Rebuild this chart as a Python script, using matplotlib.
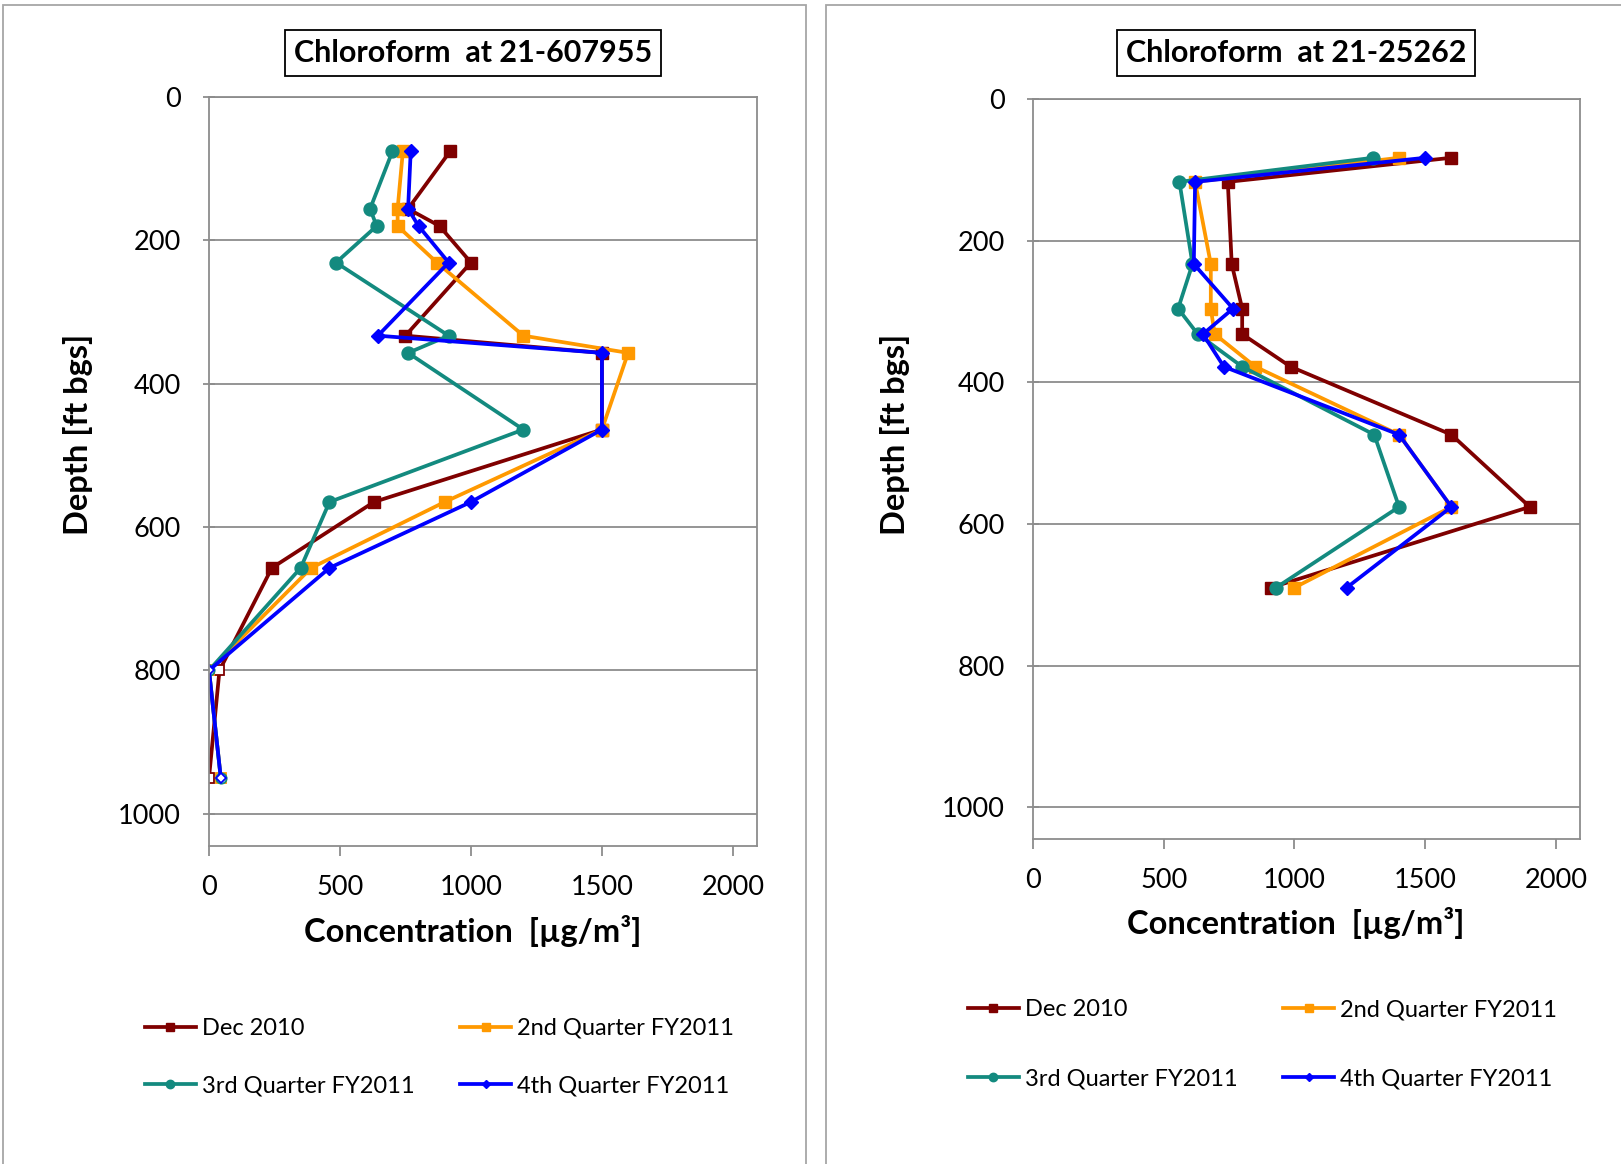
import matplotlib
matplotlib.use("Agg")
import matplotlib.pyplot as plt
from matplotlib.patches import Rectangle

plt.rcParams['font.family'] = ['Lato', 'DejaVu Sans']

# sampling depths [ft bgs]
depth_a = [76, 156, 180, 231, 333, 357, 464, 565, 657, 800, 950]
depth_b = [83, 117, 233, 296, 332, 378, 474, 576, 690]

# chloroform at 21-607955 [ug/m3]; last two ports are non-detects (hollow markers)
a_dec = [920, 760, 880, 1000, 750, 1500, 1500, 630, 240, 40, 0]
a_q2 = [740, 720, 720, 870, 1200, 1600, 1500, 900, 390, 0, 45]
a_q3 = [700, 615, 640, 485, 915, 760, 1200, 460, 350, 0, 45]
a_q4 = [770, 760, 800, 915, 645, 1500, 1500, 1000, 460, 0, 45]
a_nd = 2

# chloroform at 21-25262 [ug/m3]
b_dec = [1600, 745, 760, 800, 800, 985, 1600, 1900, 910]
b_q2 = [1400, 620, 680, 680, 695, 850, 1400, 1600, 1000]
b_q3 = [1300, 560, 610, 555, 630, 800, 1305, 1400, 930]
b_q4 = [1500, 620, 615, 765, 650, 730, 1400, 1600, 1200]

labels = ["Dec 2010", "2nd Quarter FY2011", "3rd Quarter FY2011", "4th Quarter FY2011"]
colors = ["#7F0000", "#FF9900", "#138A7F", "#0000FF"]
markers = ["s", "s", "o", "D"]
msizes = [9.3, 9.3, 9.3, 7]

W, H = 1621, 1164
fig = plt.figure(figsize=(W / 100, H / 100), dpi=100)

# chart area borders
fig.patches.append(Rectangle((3 / W, -0.01), 803 / W, 1 - 5 / H + 0.01, transform=fig.transFigure,
                             fill=False, ec="#a6a6a6", lw=1.3))
fig.patches.append(Rectangle((826 / W, -0.01), 0.5, 1 - 5 / H + 0.01, transform=fig.transFigure,
                             fill=False, ec="#a6a6a6", lw=1.3))


def depth_chart(rect, depth, series, title, title_x, ylab_x, xlab_y, leg_top, leg_x, leg_sp, nd=0):
    ax = fig.add_axes(rect)
    handles = []
    for vals, c, m, ms, lab in zip(series, colors, markers, msizes, labels):
        n = len(vals) - nd
        h, = ax.plot(vals, depth, color=c, lw=2.7, marker=m, ms=ms, mec=c, mfc=c,
                     markevery=list(range(n)), label=lab)
        if nd:
            ax.plot(vals[n:], depth[n:], ls="none", marker=m, ms=ms * 0.8, mec=c, mfc="white", mew=1.3)
        handles.append(h)
    ax.set_xlim(0, 2092)
    ax.set_ylim(1045, 0)
    ax.set_xticks([0, 500, 1000, 1500, 2000])
    ax.set_yticks([0, 200, 400, 600, 800, 1000])
    ax.grid(axis="y", color="#8c8c8c", lw=1.3)
    ax.set_axisbelow(True)
    for s in ax.spines.values():
        s.set_color("#8c8c8c")
        s.set_linewidth(1.3)
    ax.tick_params(axis="y", direction="inout", length=9, color="#8c8c8c", width=1.3,
                   labelsize=19.5, pad=16)
    ax.tick_params(axis="x", direction="out", length=7, color="#8c8c8c", width=1.3,
                   labelsize=19.5, pad=14)
    ax.set_xlabel("Concentration  [µg/m³]", fontsize=23.5, fontweight="bold")
    ax.xaxis.set_label_coords(title_x, xlab_y, transform=fig.transFigure)
    ax.set_ylabel("Depth [ft bgs]", fontsize=23.5, fontweight="bold")
    ax.yaxis.set_label_coords(ylab_x, 0.627, transform=fig.transFigure)
    fig.text(title_x, 1 - 53 / H, title, fontsize=22, fontweight="bold", ha="center", va="center",
             bbox=dict(boxstyle="square,pad=0.3", fc="white", ec="black", lw=1.3))
    order = [0, 2, 1, 3]
    ax.legend([handles[i] for i in order], [labels[i] for i in order], ncol=2, frameon=False,
              loc="upper left", bbox_to_anchor=(leg_x, leg_top), bbox_transform=fig.transFigure,
              fontsize=17, handlelength=2.15, handletextpad=0.25, columnspacing=1.95,
              labelspacing=leg_sp, borderpad=0, borderaxespad=0, markerscale=0.65)
    return ax


depth_chart([209 / W, 1 - 846 / H, 548 / W, 749 / H], depth_a, [a_dec, a_q2, a_q3, a_q4],
            "Chloroform  at 21-607955", 473 / W, 93 / W, 1 - 915 / H, 1 - 1018 / H, 145 / W, 1.55, nd=a_nd)
depth_chart([1033 / W, 1 - 839 / H, 547 / W, 740 / H], depth_b, [b_dec, b_q2, b_q3, b_q4],
            "Chloroform  at 21-25262", 1296 / W, 910 / W, 1 - 907 / H, 1 - 999 / H, 968 / W, 2.06)

fig.savefig("out.png", dpi=100)
